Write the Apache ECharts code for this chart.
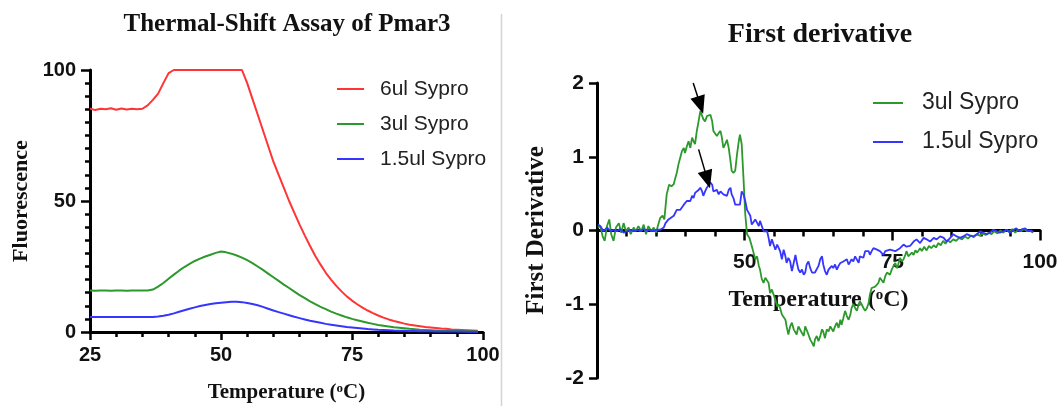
<!DOCTYPE html>
<html>
<head>
<meta charset="utf-8">
<script src="https://cdn.jsdelivr.net/npm/echarts@6/dist/echarts.min.js"></script>
<style>html,body{margin:0;padding:0;background:#fff}#c{width:1060px;height:406px}</style>
</head>
<body>
<div id="c"></div>
<script>
// ---------- Left panel: raw fluorescence ----------
const leftTemp = [25,26,27,28,29,30,31,32,33,34,35,36,37,38,39,40,41,42,43,44,45,46,47,48,49,50,51,52,53,54,55,56,57,58,59,60,61,62,63,64,65,66,67,68,69,70,71,72,73,74,75,76,77,78,79,80,81,82,83,84,85,86,87,88,89,90,91,92,93,94,95,96,97,98,99];
const red6ul = [85.3,84.7,85.2,85.0,85.4,84.8,85.3,84.9,85.2,85.0,85.2,86.5,88.6,91.0,95.0,98.8,100,100,100,100,100,100,100,100,100,100,100,100,100,100,95,89,83,77,71,65,60,55,50,45.5,41,36.8,32.8,29,25.7,22.6,20,17.6,15.5,13.6,12,10.6,9.3,8.2,7.2,6.3,5.5,4.8,4.2,3.7,3.2,2.8,2.5,2.2,1.9,1.7,1.5,1.3,1.2,1.0,0.9,0.8,0.7,0.6,0.5];
const green3ul = [15.8,15.7,15.8,15.8,15.7,15.8,15.8,15.7,15.8,15.8,15.8,15.8,16.2,17.3,18.7,20.3,21.9,23.4,24.8,26.0,27.1,28.0,28.8,29.5,30.2,30.7,30.4,29.9,29.2,28.4,27.4,26.3,25.0,23.7,22.3,20.9,19.5,18.1,16.8,15.4,14.1,12.9,11.7,10.6,9.6,8.7,7.8,7.0,6.3,5.6,5.0,4.5,4.0,3.5,3.1,2.7,2.4,2.1,1.8,1.6,1.4,1.2,1.05,0.9,0.8,0.7,0.6,0.5,0.45,0.4,0.35,0.3,0.27,0.24,0.2];
const blue15ul = [5.7,5.7,5.7,5.7,5.7,5.7,5.7,5.7,5.7,5.7,5.7,5.7,5.7,5.9,6.2,6.6,7.1,7.7,8.3,8.9,9.4,9.9,10.3,10.7,11.0,11.2,11.4,11.5,11.5,11.4,11.1,10.7,10.2,9.6,8.9,8.2,7.6,7.0,6.4,5.8,5.3,4.8,4.3,3.9,3.5,3.1,2.8,2.5,2.2,1.9,1.7,1.5,1.3,1.1,1.0,0.85,0.75,0.65,0.55,0.5,0.45,0.4,0.35,0.3,0.28,0.25,0.22,0.2,0.18,0.17,0.16,0.15,0.14,0.13,0.12];

// ---------- Right panel: first derivative ----------
const derivGreenT = [25.16,25.56,25.95,26.3,26.7,27.08,27.4,27.8,28.2,28.7,29.1,29.5,29.9,30.35,30.7,31.2,31.6,32.0,32.5,32.9,33.3,33.7,34.2,34.6,35.0,35.3,35.7,36.1,36.4,36.8,37.2,37.6,38.0,38.25,38.5,38.8,39.1,39.4,39.7,39.9,40.2,40.5,40.8,41.1,41.35,41.6,41.9,42.2,42.5,42.8,43.0,43.3,43.6,43.9,44.2,44.5,44.7,45.0,45.3,45.6,45.9,46.1,46.4,46.7,47.0,47.3,47.6,47.8,48.1,48.4,48.7,49.0,49.2,49.5,49.8,50.1,50.4,50.8,51.2,51.5,51.8,52.1,52.4,52.6,52.9,53.2,53.5,53.8,54.05,54.3,54.6,54.9,55.2,55.5,55.7,56.0,56.3,56.6,56.9,57.1,57.4,57.7,58.0,58.3,58.6,58.8,59.1,59.4,59.7,60.0,60.25,60.5,60.8,61.1,61.4,61.7,61.9,62.2,62.5,62.8,63.1,63.3,63.6,63.9,64.2,64.5,64.75,65.0,65.3,65.6,65.9,66.2,66.4,66.7,67.0,67.3,67.6,67.9,68.1,68.4,68.7,69.0,69.3,69.5,69.8,70.1,70.4,70.7,71.0,71.2,71.5,71.8,72.1,72.4,72.65,72.9,73.2,73.5,73.8,74.1,74.3,74.6,74.9,75.2,75.5,75.8,76.0,76.3,76.6,76.9,77.2,77.4,77.7,78.0,78.3,78.6,78.9,79.2,79.7,80.0,80.4,80.8,81.2,81.6,82.0,82.4,82.8,83.2,83.6,84.0,84.4,84.8,85.3,85.8,86.3,86.8,87.3,87.8,88.3,88.8,89.3,89.8,90.3,90.8,91.3,91.8,92.3,92.8,93.3,93.8,94.3,94.8,95.3,95.8,96.3,96.8,97.3,97.8,98.3,98.8];
const derivGreenD = [0.04,0.06,-0.08,-0.14,0.06,0.15,-0.05,-0.14,0.04,0.1,-0.03,0.1,-0.01,0.04,-0.05,0.04,-0.01,0.06,-0.01,0.08,-0.05,0.06,-0.01,0.04,-0.03,0.06,0.17,0.2,0.15,0.49,0.62,0.6,0.63,0.71,0.78,0.9,0.99,1.08,1.12,1.05,1.14,1.21,1.12,1.26,1.21,1.17,1.35,1.48,1.62,1.6,1.51,1.48,1.55,1.53,1.57,1.48,1.35,1.37,1.28,1.32,1.35,1.28,1.12,1.17,1.23,1.12,0.94,0.81,0.78,0.81,1.03,1.21,1.3,1.17,0.71,0.22,-0.05,-0.1,-0.21,-0.3,-0.39,-0.35,-0.48,-0.53,-0.66,-0.71,-0.64,-0.66,-0.71,-0.85,-0.8,-0.87,-0.94,-1.03,-1.0,-1.05,-1.14,-1.12,-1.21,-1.3,-1.41,-1.3,-1.25,-1.34,-1.32,-1.41,-1.3,-1.28,-1.39,-1.43,-1.3,-1.32,-1.41,-1.48,-1.52,-1.57,-1.48,-1.43,-1.5,-1.43,-1.34,-1.37,-1.46,-1.34,-1.37,-1.3,-1.32,-1.37,-1.3,-1.25,-1.32,-1.21,-1.28,-1.19,-1.09,-1.16,-1.21,-1.14,-1.05,-1.0,-1.05,-1.09,-1.0,-0.96,-1.0,-1.05,-1.09,-1.05,-0.98,-0.87,-0.78,-0.8,-0.76,-0.78,-0.71,-0.64,-0.66,-0.71,-0.62,-0.57,-0.55,-0.6,-0.53,-0.48,-0.44,-0.51,-0.46,-0.37,-0.42,-0.39,-0.33,-0.28,-0.35,-0.37,-0.3,-0.33,-0.27,-0.3,-0.24,-0.28,-0.22,-0.27,-0.21,-0.24,-0.2,-0.23,-0.17,-0.2,-0.14,-0.18,-0.13,-0.16,-0.12,-0.14,-0.1,-0.12,-0.08,-0.11,-0.07,-0.09,-0.05,-0.07,-0.04,-0.06,-0.03,-0.05,-0.01,-0.04,0.0,-0.03,0.01,-0.02,0.02,-0.03,0.01,-0.01,0.02,-0.01,0.0,-0.03];
const derivBlueT = [25.16,25.56,26.1,26.7,27.3,27.8,28.4,28.9,29.5,30.1,30.6,31.2,31.8,32.3,32.9,33.4,34.0,34.6,35.1,35.7,36.3,36.6,37.1,37.4,38.0,38.5,39.1,39.7,40.2,40.8,41.1,41.35,41.6,41.9,42.2,42.5,42.8,43.0,43.3,43.6,43.9,44.2,44.5,44.7,45.0,45.3,45.6,45.9,46.1,46.4,46.7,47.0,47.3,47.6,47.8,48.1,48.4,48.7,49.2,49.5,49.8,50.1,50.4,50.7,50.95,51.2,51.5,51.8,52.1,52.4,52.6,52.9,53.2,53.5,53.8,54.05,54.3,54.6,54.9,55.2,55.5,55.7,56.0,56.3,56.6,56.9,57.1,57.4,57.7,58.0,58.3,58.6,58.8,59.1,59.4,59.7,60.0,60.25,60.5,60.8,61.1,61.4,61.9,62.5,62.8,63.1,63.3,63.6,63.9,64.2,64.5,64.75,65.0,65.3,65.6,65.9,66.2,66.4,66.7,67.0,67.3,67.6,67.9,68.1,68.4,68.7,69.0,69.3,69.5,69.8,70.1,70.4,70.7,71.0,71.2,71.5,71.8,72.4,72.9,73.5,73.8,74.1,74.6,74.9,75.5,75.8,76.3,76.9,77.4,78.0,78.6,79.1,79.7,80.3,80.8,81.4,82.0,82.5,83.1,83.7,84.2,84.8,85.3,85.9,86.5,87.0,87.6,88.2,88.7,89.3,89.9,90.4,91.0,91.5,92.1,92.7,93.2,93.8,94.4,94.9,95.5,96.0,96.5,97.0,97.5,98.0,98.5,98.9];
const derivBlueD = [0.08,0.06,-0.01,0.04,-0.01,0.01,-0.01,0.02,-0.03,-0.01,0.01,-0.01,0.01,-0.01,0.02,0.0,0.01,-0.01,0.01,0.01,0.04,0.1,0.15,0.17,0.2,0.28,0.28,0.35,0.4,0.4,0.47,0.44,0.51,0.49,0.55,0.58,0.53,0.47,0.53,0.58,0.6,0.65,0.62,0.53,0.51,0.55,0.49,0.53,0.55,0.49,0.51,0.47,0.55,0.58,0.49,0.44,0.35,0.37,0.35,0.53,0.49,0.4,0.28,0.26,0.2,0.08,0.1,0.15,0.13,0.06,0.13,0.06,-0.01,0.01,-0.01,-0.1,-0.21,-0.12,-0.14,-0.26,-0.19,-0.17,-0.28,-0.39,-0.26,-0.35,-0.44,-0.37,-0.42,-0.55,-0.44,-0.33,-0.42,-0.53,-0.57,-0.53,-0.6,-0.57,-0.46,-0.42,-0.51,-0.57,-0.57,-0.48,-0.39,-0.35,-0.46,-0.55,-0.6,-0.53,-0.55,-0.48,-0.51,-0.46,-0.53,-0.48,-0.44,-0.46,-0.42,-0.44,-0.39,-0.46,-0.42,-0.39,-0.42,-0.35,-0.37,-0.44,-0.35,-0.33,-0.37,-0.28,-0.26,-0.28,-0.33,-0.28,-0.24,-0.26,-0.28,-0.33,-0.28,-0.3,-0.26,-0.24,-0.28,-0.26,-0.24,-0.19,-0.22,-0.21,-0.15,-0.12,-0.17,-0.1,-0.12,-0.15,-0.1,-0.12,-0.08,-0.1,-0.15,-0.1,-0.05,-0.08,-0.1,-0.08,-0.05,-0.07,-0.08,-0.05,-0.01,-0.03,-0.05,-0.03,0.01,-0.01,-0.03,-0.01,0.01,-0.03,0.01,0.03,-0.01,0.02,0.03,-0.01,0.0,-0.02];

// Arrow annotations (data coordinates: start -> tip)
const arrowGreen = [[41.29, 2.0], [42.5, 1.70]];
const arrowBlue = [[42.2, 1.10], [43.7, 0.69]];

const xTicks = {min: 25, max: 100, interval: 25};
const leftYTicks = {min: 0, max: 100, interval: 50};
const rightYTicks = {min: -2, max: 2, interval: 1};

const legendLeftNames = ['6ul Sypro', '3ul Sypro', '1.5ul Sypro'];
const legendRightNames = ['3ul Sypro', '1.5ul Sypro'];

const RED = '#ff3535', GREEN = '#2c992c', BLUE = '#3535ff';
const SERIF = '"Liberation Serif", "Times New Roman", serif';
const SANS = '"Liberation Sans", Arial, sans-serif';

function zip(a, b) { return a.map((v, i) => [v, b[i]]); }

function axisNameStyle(size) {
  return {
    fontFamily: SERIF, fontWeight: 'bold', fontSize: size, color: '#111',
    rich: { sup: { fontFamily: SERIF, fontWeight: 'bold', fontSize: Math.round(size * 0.62), color: '#111', verticalAlign: 'top' } }
  };
}

const chart = echarts.init(document.getElementById('c'), null, {renderer: 'canvas'});
chart.setOption({
  animation: false,
  backgroundColor: '#fff',
  title: [
    {text: 'Thermal-Shift Assay of Pmar3', left: 287, top: 12, textAlign: 'center', padding: 0,
     textStyle: {fontFamily: SERIF, fontWeight: 'bold', fontSize: 25, color: '#111'}},
    {text: 'First derivative', left: 820, top: 21, textAlign: 'center', padding: 0,
     textStyle: {fontFamily: SERIF, fontWeight: 'bold', fontSize: 28, color: '#111'}}
  ],
  legend: [
    {data: legendLeftNames, orient: 'vertical', left: 337, top: 78, padding: 0, icon: 'rect',
     itemWidth: 27, itemHeight: 2, itemGap: 13, selectedMode: false,
     textStyle: {fontFamily: SANS, fontSize: 21, lineHeight: 22, color: '#222', padding: [0, 0, 0, 11]}},
    {data: legendRightNames, orient: 'vertical', left: 873, top: 91, padding: 0, icon: 'rect',
     itemWidth: 30, itemHeight: 2, itemGap: 15, selectedMode: false,
     textStyle: {fontFamily: SANS, fontSize: 23, lineHeight: 24, color: '#222', padding: [0, 0, 0, 14]}}
  ],
  graphic: [
    {type: 'line', shape: {x1: 501.5, y1: 14, x2: 501.5, y2: 406}, style: {stroke: '#d4d4d4', lineWidth: 1.5}, silent: true}
  ],
  grid: [
    {left: 90, top: 70, width: 393, height: 262, outerBoundsMode: 'none', containLabel: false},
    {left: 597, top: 83, width: 443, height: 295, outerBoundsMode: 'none', containLabel: false}
  ],
  xAxis: [
    {type: 'value', gridIndex: 0, min: xTicks.min, max: xTicks.max, interval: xTicks.interval,
     name: 'Temperature ({sup|o}C)', nameLocation: 'middle', nameGap: 50, nameTextStyle: axisNameStyle(21),
     axisLine: {lineStyle: {color: '#000', width: 3}},
     axisTick: {length: 8, lineStyle: {color: '#000', width: 2.5}},
     minorTick: {show: true, splitNumber: 5, length: 5, lineStyle: {color: '#000', width: 2.5}},
     splitLine: {show: false},
     axisLabel: {fontFamily: SANS, fontWeight: 'bold', fontSize: 20, color: '#111', margin: 13}},
    {type: 'value', gridIndex: 1, min: xTicks.min, max: xTicks.max, interval: xTicks.interval,
     name: 'Temperature ({sup|o}C)', nameLocation: 'middle', nameGap: -90, nameTextStyle: axisNameStyle(24),
     axisLine: {onZero: true, lineStyle: {color: '#000', width: 3}},
     axisTick: {length: 10, lineStyle: {color: '#000', width: 2.5}},
     minorTick: {show: true, splitNumber: 5, length: 6, lineStyle: {color: '#000', width: 2.5}},
     splitLine: {show: false},
     axisLabel: {fontFamily: SANS, fontWeight: 'bold', fontSize: 21, color: '#111', margin: -126, showMinLabel: false}}
  ],
  yAxis: [
    {type: 'value', gridIndex: 0, min: leftYTicks.min, max: leftYTicks.max, interval: leftYTicks.interval,
     name: 'Fluorescence', nameLocation: 'middle', nameGap: 58, nameTextStyle: axisNameStyle(22),
     axisLine: {show: true, lineStyle: {color: '#000', width: 3}},
     axisTick: {show: true, length: 9, lineStyle: {color: '#000', width: 2.5}},
     minorTick: {show: true, splitNumber: 10, length: 5, lineStyle: {color: '#000', width: 2.5}},
     splitLine: {show: false},
     axisLabel: {fontFamily: SANS, fontWeight: 'bold', fontSize: 20, color: '#111', margin: 14}},
    {type: 'value', gridIndex: 1, min: rightYTicks.min, max: rightYTicks.max, interval: rightYTicks.interval,
     name: 'First Derivative', nameLocation: 'middle', nameGap: 48, nameTextStyle: axisNameStyle(25),
     axisLine: {show: true, onZero: false, lineStyle: {color: '#000', width: 3}},
     axisTick: {show: true, length: 8, lineStyle: {color: '#000', width: 2.5}},
     splitLine: {show: false},
     axisLabel: {fontFamily: SANS, fontWeight: 'bold', fontSize: 21, color: '#111', margin: 13}}
  ],
  series: [
    {name: '6ul Sypro', type: 'line', xAxisIndex: 0, yAxisIndex: 0, data: zip(leftTemp, red6ul),
     symbol: 'none', lineStyle: {color: RED, width: 2}, itemStyle: {color: RED}},
    {name: '3ul Sypro', type: 'line', xAxisIndex: 0, yAxisIndex: 0, data: zip(leftTemp, green3ul),
     symbol: 'none', lineStyle: {color: GREEN, width: 2}, itemStyle: {color: GREEN}},
    {name: '1.5ul Sypro', type: 'line', xAxisIndex: 0, yAxisIndex: 0, data: zip(leftTemp, blue15ul),
     symbol: 'none', lineStyle: {color: BLUE, width: 2}, itemStyle: {color: BLUE}},
    {name: '3ul Sypro', type: 'line', xAxisIndex: 1, yAxisIndex: 1, data: zip(derivGreenT, derivGreenD),
     symbol: 'none', lineStyle: {color: GREEN, width: 1.8}, itemStyle: {color: GREEN},
     markLine: {silent: true, symbol: ['none', 'triangle'], symbolSize: [15, 18], label: {show: false},
       lineStyle: {color: '#000', width: 1.5, type: 'solid'},
       data: [[{coord: arrowGreen[0]}, {coord: arrowGreen[1]}]]}},
    {name: '1.5ul Sypro', type: 'line', xAxisIndex: 1, yAxisIndex: 1, data: zip(derivBlueT, derivBlueD),
     symbol: 'none', lineStyle: {color: BLUE, width: 1.8}, itemStyle: {color: BLUE},
     markLine: {silent: true, symbol: ['none', 'triangle'], symbolSize: [15, 18], label: {show: false},
       lineStyle: {color: '#000', width: 1.5, type: 'solid'},
       data: [[{coord: arrowBlue[0]}, {coord: arrowBlue[1]}]]}}
  ]
});
</script>
</body>
</html>
